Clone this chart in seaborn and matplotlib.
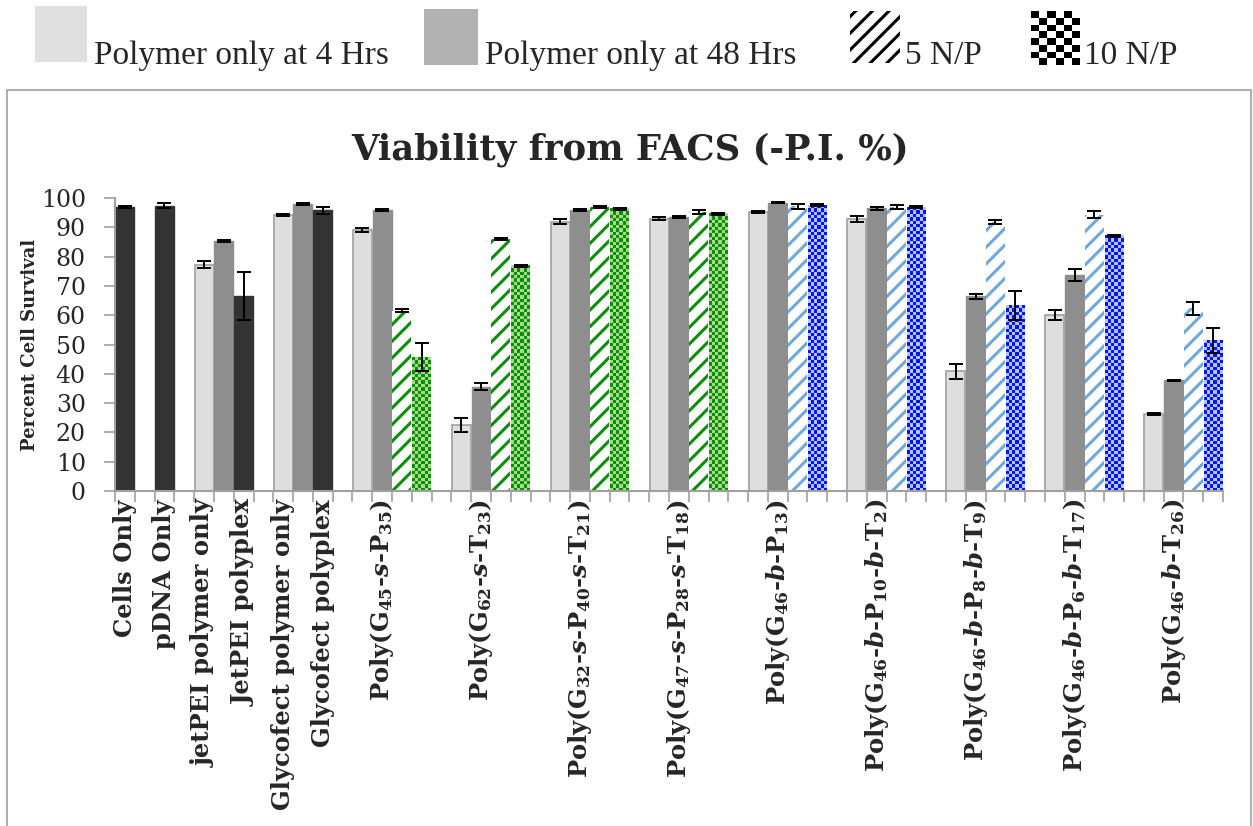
import numpy as np
import pandas as pd
import matplotlib
matplotlib.use('Agg')
import matplotlib.pyplot as plt
import seaborn as sns
from matplotlib.patches import Rectangle
from matplotlib.colors import ListedColormap

# control samples (value, error)
cells_only = [97.0]
cells_only_err = [0.3]
pdna_only = [97.4]
pdna_only_err = [0.8]
jetpei_vals = [77.2, 85.4, 66.5]        # 4 hrs, 48 hrs, polyplex
jetpei_err = [1.2, 0.4, 8.1]
glycofect_vals = [94.2, 98.0, 95.8]
glycofect_err = [0.3, 0.3, 1.1]
control_labels = ['Cells Only', 'pDNA Only', 'jetPEI polymer only', 'JetPEI polyplex',
                  'Glycofect polymer only', 'Glycofect polyplex']

# polymers
polymer_labels = [
    r'Poly(G$_{45}$-$\mathit{s}$-P$_{35}$)',
    r'Poly(G$_{62}$-$\mathit{s}$-T$_{23}$)',
    r'Poly(G$_{32}$-$\mathit{s}$-P$_{40}$-$\mathit{s}$-T$_{21}$)',
    r'Poly(G$_{47}$-$\mathit{s}$-P$_{28}$-$\mathit{s}$-T$_{18}$)',
    r'Poly(G$_{46}$-$\mathit{b}$-P$_{13}$)',
    r'Poly(G$_{46}$-$\mathit{b}$-P$_{10}$-$\mathit{b}$-T$_{2}$)',
    r'Poly(G$_{46}$-$\mathit{b}$-P$_{8}$-$\mathit{b}$-T$_{9}$)',
    r'Poly(G$_{46}$-$\mathit{b}$-P$_{6}$-$\mathit{b}$-T$_{17}$)',
    r'Poly(G$_{46}$-$\mathit{b}$-T$_{26}$)',
]
hrs4 = [89.2, 22.5, 91.9, 93.0, 95.2, 92.9, 40.8, 60.1, 26.3]
hrs4_err = [0.7, 2.3, 0.9, 0.6, 0.3, 1.1, 2.6, 1.8, 0.3]
hrs48 = [96.0, 35.6, 95.8, 93.5, 98.4, 96.5, 66.4, 73.6, 37.8]
hrs48_err = [0.3, 1.2, 0.4, 0.3, 0.2, 0.5, 0.9, 2.0, 0.1]
np5 = [61.6, 86.1, 96.8, 95.2, 97.1, 96.9, 91.8, 94.3, 62.4]
np5_err = [0.5, 0.3, 0.3, 0.8, 1.0, 0.6, 0.6, 1.1, 2.2]
np10 = [45.7, 76.9, 96.3, 94.6, 97.6, 96.9, 63.2, 87.1, 51.4]
np10_err = [4.7, 0.3, 0.3, 0.3, 0.3, 0.2, 5.0, 0.4, 4.2]
polymer_family = ['green'] * 4 + ['blue'] * 5

legend_labels = ['Polymer only at 4 Hrs', 'Polymer only at 48 Hrs', '5 N/P', '10 N/P']

LIGHT = '#dedede'
MID = '#8e8e8e'
DARK = '#333333'
HATCH_COL = {'green': '#0a8f0a', 'blue': '#6fa8dc'}
CHECK_COL = {'green': ('#0a8f0a', '#a8d98a'), 'blue': ('#1010f0', '#a8c8f8')}

# one row per bar, empty slot between groups (excel style)
rows = []
ticklabels = {}
slot = 0
for lab, v, e in [(control_labels[0], cells_only, cells_only_err),
                  (control_labels[1], pdna_only, pdna_only_err)]:
    rows.append(dict(slot=slot, value=v[0], err=e[0], kind='dark', fam=None))
    ticklabels[slot] = lab
    slot += 2
for labs, vals, errs in [(control_labels[2:4], jetpei_vals, jetpei_err),
                         (control_labels[4:6], glycofect_vals, glycofect_err)]:
    for k, kind in enumerate(['light', 'mid', 'dark']):
        rows.append(dict(slot=slot + k, value=vals[k], err=errs[k], kind=kind, fam=None))
    ticklabels[slot] = labs[0]
    ticklabels[slot + 2] = labs[1]
    slot += 4
for i, lab in enumerate(polymer_labels):
    series = [(hrs4, hrs4_err, 'light'), (hrs48, hrs48_err, 'mid'),
              (np5, np5_err, 'hatch'), (np10, np10_err, 'check')]
    for k, (vals, errs, kind) in enumerate(series):
        rows.append(dict(slot=slot + k, value=vals[i], err=errs[i], kind=kind, fam=polymer_family[i]))
    ticklabels[slot + 1] = lab
    slot += 5
n_slots = slot - 1
df = pd.DataFrame(rows)

sns.set_theme(style='white')
plt.rcParams['font.family'] = ['DejaVu Serif']
plt.rcParams['mathtext.fontset'] = 'custom'
plt.rcParams['mathtext.rm'] = 'DejaVu Serif:bold'
plt.rcParams['mathtext.it'] = 'DejaVu Serif:italic:bold'
plt.rcParams['mathtext.bf'] = 'DejaVu Serif:bold'
plt.rcParams['hatch.linewidth'] = 2.2

W, H = 1253, 826
fig = plt.figure(figsize=(W / 100, H / 100), dpi=100)
ax = fig.add_axes([115 / W, 1 - 491 / H, (1223 - 115) / W, (491 - 198) / H])

sns.barplot(data=df, x='slot', y='value', order=list(range(n_slots)), color='white',
            width=0.96, errorbar=None, ax=ax)

info = df.set_index('slot')
for p in ax.patches:
    s = int(round(p.get_x() + p.get_width() / 2))
    if s not in info.index:
        continue
    r = info.loc[s]
    if r['kind'] == 'light':
        p.set_facecolor(LIGHT); p.set_edgecolor('#a0a0a0'); p.set_linewidth(1.2)
    elif r['kind'] == 'mid':
        p.set_facecolor(MID); p.set_edgecolor(MID); p.set_linewidth(1.0)
    elif r['kind'] == 'dark':
        p.set_facecolor(DARK); p.set_edgecolor(DARK); p.set_linewidth(1.0)
    elif r['kind'] == 'hatch':
        col = HATCH_COL[r['fam']]
        p.set_facecolor('white'); p.set_edgecolor(col); p.set_linewidth(0)
        p.set_hatch('//')
        if hasattr(p, 'set_hatchcolor'):
            p.set_hatchcolor(col)
    else:
        dark, light = CHECK_COL[r['fam']]
        p.set_facecolor(light); p.set_linewidth(0)
        x0, w, h = p.get_x(), p.get_width(), p.get_height()
        ny = max(int(round(h / 1.15)), 1)
        board = (np.add.outer(np.arange(ny), np.arange(6)) % 2).astype(float)
        ax.imshow(board, extent=(x0, x0 + w, 0, h), origin='lower', aspect='auto',
                  interpolation='nearest', cmap=ListedColormap([light, dark]),
                  zorder=p.get_zorder() + 0.1)

ax.errorbar(df['slot'], df['value'], yerr=df['err'], fmt='none', ecolor='black',
            elinewidth=1.4, capsize=5, capthick=1.4, zorder=5)

ax.set_xlim(-0.5, n_slots - 0.5)
ax.set_ylim(0, 100)
ax.set_yticks(range(0, 101, 10))
ax.tick_params(axis='y', labelsize=17, length=8, width=1.2, color='#a0a0a0', pad=13, left=True)
ax.set_xticks(sorted(ticklabels))
ax.set_xticklabels([ticklabels[k] for k in sorted(ticklabels)], rotation=90,
                   fontsize=17.5, fontweight='bold')
ax.set_xticks(np.arange(-0.5, n_slots, 1), minor=True)
ax.tick_params(axis='x', which='major', length=0, pad=6)
ax.tick_params(axis='x', which='minor', length=8, width=1.2, color='#a0a0a0', bottom=True)
ax.set_xlabel('')
ax.set_ylabel('Percent Cell Survival', fontsize=13, fontweight='bold')
ax.yaxis.set_label_coords(-0.069, 0.5)
for sp in ['top', 'right']:
    ax.spines[sp].set_visible(False)
for sp in ['left', 'bottom']:
    ax.spines[sp].set_color('#a0a0a0')
    ax.spines[sp].set_linewidth(1.5)

# chart border and title
fig.add_artist(Rectangle((7 / W, -0.02), (1251 - 7) / W, 1 - 90 / H + 0.02,
                         transform=fig.transFigure, fill=False, edgecolor='#b0b0b0', linewidth=1.5))
fig.text(0.503, 1 - 150 / H, 'Viability from FACS (-P.I. %)', ha='center', va='center',
         fontsize=25.5, fontweight='bold')


# legend above the chart box (excel style: big swatch, text on its baseline)
def swatch(x0, y0, x1, y1, **kw):
    r = Rectangle((x0 / W, 1 - y1 / H), (x1 - x0) / W, (y1 - y0) / H,
                  transform=fig.transFigure, **kw)
    fig.add_artist(r)
    return r


def legend_text(x, s):
    fig.text(x / W, 1 - 64 / H, s, ha='left', va='baseline', fontsize=24,
             family='Liberation Serif')


swatch(35, 6, 87, 62, facecolor='#e0e0e0', edgecolor='none')
legend_text(94, legend_labels[0])
swatch(424, 9, 478, 65, facecolor='#b2b2b2', edgecolor='none')
legend_text(485, legend_labels[1])
hs = swatch(850, 11, 900, 63, facecolor='white', edgecolor='black', hatch='//', linewidth=0)
if hasattr(hs, 'set_hatchcolor'):
    hs.set_hatchcolor('black')
legend_text(905, legend_labels[2])
cx0, cy0, cx1, cy1 = 1031, 11, 1080, 65
nx, ny = 6, 8
dx, dy = (cx1 - cx0) / nx, (cy1 - cy0) / ny
for i in range(nx):
    for j in range(ny):
        swatch(cx0 + i * dx, cy0 + j * dy, cx0 + (i + 1) * dx, cy0 + (j + 1) * dy,
               facecolor='black' if (i + j) % 2 == 0 else 'white', edgecolor='none')
legend_text(1084, legend_labels[3])

fig.savefig('out.png', dpi=100)
